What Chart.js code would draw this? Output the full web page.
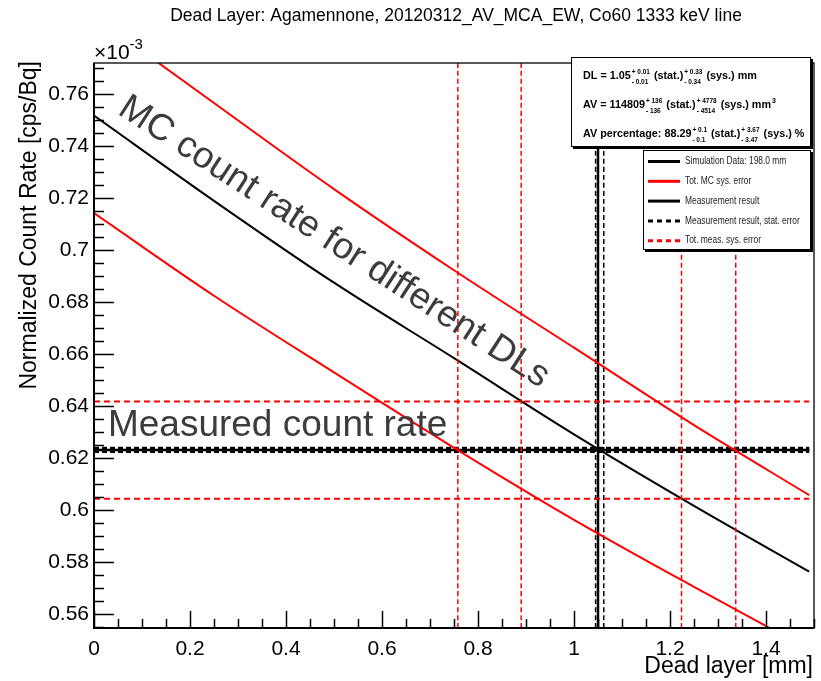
<!DOCTYPE html>
<html>
<head>
<meta charset="utf-8">
<script src="https://cdn.jsdelivr.net/npm/chart.js@4.4.0/dist/chart.umd.min.js"></script>
<style>
  html, body { margin: 0; padding: 0; background: #fff; }
  canvas { display: block; }
</style>
</head>
<body>
<canvas id="deadLayerChart" width="821" height="681"></canvas>
<script>
// dead layer [mm] where the MC curves were read
var deadLayer = [0, 0.25, 0.5, 0.75, 1.0, 1.25, 1.49];
// normalized count rate, units of 1e-3 cps/Bq
var simRate   = [0.7518, 0.7190, 0.6875, 0.6585, 0.6292, 0.6017, 0.5764];
var mcSysHigh = [0.7900, 0.7566, 0.7235, 0.6923, 0.6625, 0.6327, 0.6058];
var mcSysLow  = [0.7143, 0.6825, 0.6530, 0.6240, 0.5963, 0.5705, 0.5465];

// measurement
var measRate = 0.6232;
var measStat = [0.6230, 0.6234];
var measSys  = [0.6044, 0.6418];

// resulting dead layer
var dlResult = 1.05;
var dlStat   = [1.045, 1.062];
var dlSys    = [0.758, 0.89, 1.224, 1.337];

var xTicks = [0, 0.2, 0.4, 0.6, 0.8, 1.0, 1.2, 1.4];
var xTickLabels = ["0", "0.2", "0.4", "0.6", "0.8", "1", "1.2", "1.4"];
var yTicks = [0.56, 0.58, 0.60, 0.62, 0.64, 0.66, 0.68, 0.70, 0.72, 0.74, 0.76];
var yTickLabels = ["0.56", "0.58", "0.6", "0.62", "0.64", "0.66", "0.68", "0.7", "0.72", "0.74", "0.76"];

var xMin = 0, xMax = 1.5;
var yMin = 0.5547, yMax = 0.7720;

var legendLabels = ["Simulation Data: 198.0 mm", "Tot. MC sys. error", "Measurement result",
                    "Measurement result, stat. error", "Tot. meas. sys. error"];

var FONT = '"Liberation Sans", Arial, sans-serif';

function curve(ys) {
  return deadLayer.map(function (x, i) { return { x: x, y: ys[i] }; });
}
function hLine(y) {
  return [{ x: deadLayer[0], y: y }, { x: deadLayer[deadLayer.length - 1], y: y }];
}
function vLine(x) {
  return [{ x: x, y: yMin }, { x: x, y: yMax }];
}

function lineSet(data, color, width, dash) {
  return {
    data: data, showLine: true, borderColor: color, borderWidth: width,
    borderDash: dash || [], pointRadius: 0, fill: false, clip: 0,
    cubicInterpolationMode: "monotone"
  };
}

var datasets = [];
dlSys.forEach(function (x) { datasets.push(lineSet(vLine(x), "#ff0000", 1.5, [5, 3])); });
measSys.forEach(function (y) { datasets.push(lineSet(hLine(y), "#ff0000", 2, [6, 4])); });
datasets.push(lineSet(curve(simRate), "#000000", 2));
datasets.push(lineSet(curve(mcSysHigh), "#ff0000", 2));
datasets.push(lineSet(curve(mcSysLow), "#ff0000", 2));
datasets.push(lineSet(vLine(dlResult), "#000000", 2.5));
dlStat.forEach(function (x) { datasets.push(lineSet(vLine(x), "#000000", 1.5, [5, 3])); });
datasets.push(lineSet(hLine(measRate), "#000000", 2.5));
measStat.forEach(function (y) { datasets.push(lineSet(hLine(y), "#000000", 5, [5, 3])); });

// stacked +/- errors for the stats box
function drawRich(ctx, x, y, parts, size) {
  parts.forEach(function (p) {
    if (typeof p === "string") {
      ctx.font = "bold " + size + "px " + FONT;
      ctx.fillText(p, x, y);
      x += ctx.measureText(p).width;
    } else if (p.sup) {
      ctx.font = "bold " + (size * 0.65) + "px " + FONT;
      ctx.fillText(p.sup, x + 1, y - size * 0.45);
      x += ctx.measureText(p.sup).width + 1;
    } else {
      ctx.font = "bold " + (size * 0.6) + "px " + FONT;
      var w = Math.max(ctx.measureText(p.up).width, ctx.measureText(p.dn).width);
      ctx.fillText(p.up, x + 1, y - size * 0.5);
      ctx.fillText(p.dn, x + 1, y + size * 0.45);
      x += w + 2;
    }
  });
}

function shadowBox(ctx, x, y, w, h) {
  ctx.fillStyle = "#000";
  ctx.fillRect(x + 2, y + 2, w, h);
  ctx.fillStyle = "#fff";
  ctx.fillRect(x, y, w, h);
  ctx.strokeStyle = "#000";
  ctx.lineWidth = 1;
  ctx.strokeRect(x + 0.5, y + 0.5, w - 1, h - 1);
}

var rootStyle = {
  id: "rootStyle",
  afterDatasetsDraw: function (chart) {
    var ctx = chart.ctx, a = chart.chartArea;
    var xs = chart.scales.x, ys = chart.scales.y;
    ctx.save();
    ctx.strokeStyle = "#000";
    ctx.lineWidth = 1.3;
    ctx.strokeRect(a.left, a.top, a.right - a.left, a.bottom - a.top);
    ctx.lineWidth = 2;
    ctx.beginPath();
    ctx.moveTo(a.left, a.top); ctx.lineTo(a.left, a.bottom); ctx.lineTo(a.right, a.bottom);
    ctx.stroke();
    // ticks inside the frame
    ctx.lineWidth = 1.5;
    ctx.beginPath();
    for (var v = 0; v <= xMax + 1e-9; v += 0.05) {
      var px = Math.round(xs.getPixelForValue(v)) + 0.5;
      var major = Math.abs(v / 0.2 - Math.round(v / 0.2)) < 1e-6;
      ctx.moveTo(px, a.bottom); ctx.lineTo(px, a.bottom - (major ? 17 : 9));
    }
    for (var k = 111; k <= 154; k++) {
      var val = k * 0.005;
      if (val < yMin || val > yMax) continue;
      var py = Math.round(ys.getPixelForValue(val)) + 0.5;
      var maj = k % 4 === 0;
      ctx.moveTo(a.left, py); ctx.lineTo(a.left + (maj ? 20 : 10), py);
    }
    ctx.stroke();
    ctx.restore();
  },
  afterDraw: function (chart) {
    var ctx = chart.ctx, a = chart.chartArea;
    var xs = chart.scales.x, ys = chart.scales.y;
    ctx.save();
    ctx.fillStyle = "#000";
    ctx.textBaseline = "alphabetic";

    // title
    ctx.font = "17.5px " + FONT;
    ctx.textAlign = "center";
    ctx.fillText("Dead Layer: Agamennone, 20120312_AV_MCA_EW, Co60 1333 keV line", 456, 21);

    // exponent
    ctx.textAlign = "left";
    ctx.font = "21px " + FONT;
    ctx.fillText("\u00d710", a.left, 59);
    var wx = ctx.measureText("\u00d710").width;
    ctx.font = "15px " + FONT;
    ctx.fillText("-3", a.left + wx, 49);

    // axis titles
    ctx.font = "23px " + FONT;
    ctx.textAlign = "right";
    ctx.fillText("Dead layer [mm]", a.right - 1, 673);
    ctx.save();
    ctx.translate(36, 61);
    ctx.rotate(-Math.PI / 2);
    ctx.fillText("Normalized Count Rate [cps/Bq]", 0, 0);
    ctx.restore();

    // annotations
    ctx.fillStyle = "#3c3c3c";
    ctx.font = "37px " + FONT;
    ctx.textAlign = "left";
    ctx.save();
    ctx.translate(xs.getPixelForValue(0.047), ys.getPixelForValue(0.7527));
    ctx.rotate(33 * Math.PI / 180);
    ctx.fillText("MC count rate for different DLs", 0, 0);
    ctx.restore();
    ctx.fillText("Measured count rate", xs.getPixelForValue(0.029), ys.getPixelForValue(0.6287));

    // stats box
    shadowBox(ctx, 571, 57, 240, 90);
    ctx.fillStyle = "#000";
    ctx.textAlign = "left";
    drawRich(ctx, 583, 79, ["DL = 1.05", { up: "+ 0.01", dn: "- 0.01" }, " (stat.)",
      { up: "+ 0.33", dn: "- 0.34" }, " (sys.) mm"], 10.8);
    drawRich(ctx, 583, 108, ["AV = 114809", { up: "+ 136", dn: "- 136" }, " (stat.)",
      { up: "+ 4778", dn: "- 4514" }, " (sys.) mm", { sup: "3" }], 10.8);
    drawRich(ctx, 583, 137, ["AV percentage: 88.29", { up: "+ 0.1", dn: "- 0.1" }, " (stat.)",
      { up: "+ 3.67", dn: "- 3.47" }, " (sys.) %"], 10.8);

    // legend box
    shadowBox(ctx, 643, 150, 168, 100);
    var styles = [["#000", []], ["#ff0000", []], ["#000", []], ["#000", [5, 4]], ["#ff0000", [5, 4]]];
    legendLabels.forEach(function (lab, i) {
      var y = 161.5 + i * 19.8;
      ctx.strokeStyle = styles[i][0];
      ctx.setLineDash(styles[i][1]);
      ctx.lineWidth = 3;
      ctx.beginPath(); ctx.moveTo(648, y); ctx.lineTo(680, y); ctx.stroke();
      ctx.setLineDash([]);
      ctx.fillStyle = "#222";
      ctx.font = "10px " + FONT;
      ctx.textBaseline = "middle";
      ctx.save();
      ctx.translate(685, y);
      ctx.scale(0.84, 1);
      ctx.fillText(lab, 0, 0);
      ctx.restore();
      ctx.textBaseline = "alphabetic";
    });
    ctx.restore();
  }
};

var myChart = new Chart(document.getElementById("deadLayerChart"), {
  type: "scatter",
  data: { datasets: datasets },
  options: {
    responsive: false,
    animation: false,
    devicePixelRatio: 1,
    layout: { padding: { top: 63, right: 7, bottom: 0, left: 0 } },
    plugins: { legend: { display: false }, tooltip: { enabled: false }, title: { display: false } },
    scales: {
      x: {
        type: "linear", min: xMin, max: xMax,
        grid: { display: false, drawTicks: false }, border: { display: false },
        afterBuildTicks: function (s) { s.ticks = xTicks.map(function (v) { return { value: v }; }); },
        afterFit: function (s) { s.height = 53; },
        ticks: {
          padding: 9, maxRotation: 0, autoSkip: false, color: "#000",
          font: { family: FONT, size: 21 },
          callback: function (v, i) { return xTickLabels[i]; }
        }
      },
      y: {
        type: "linear", min: yMin, max: yMax,
        grid: { display: false, drawTicks: false }, border: { display: false },
        afterBuildTicks: function (s) { s.ticks = yTicks.map(function (v) { return { value: v }; }); },
        afterFit: function (s) { s.width = 94; },
        ticks: {
          padding: 5, autoSkip: false, color: "#000",
          font: { family: FONT, size: 21 },
          callback: function (v, i) { return yTickLabels[i]; }
        }
      }
    }
  },
  plugins: [rootStyle]
});
</script>
</body>
</html>
